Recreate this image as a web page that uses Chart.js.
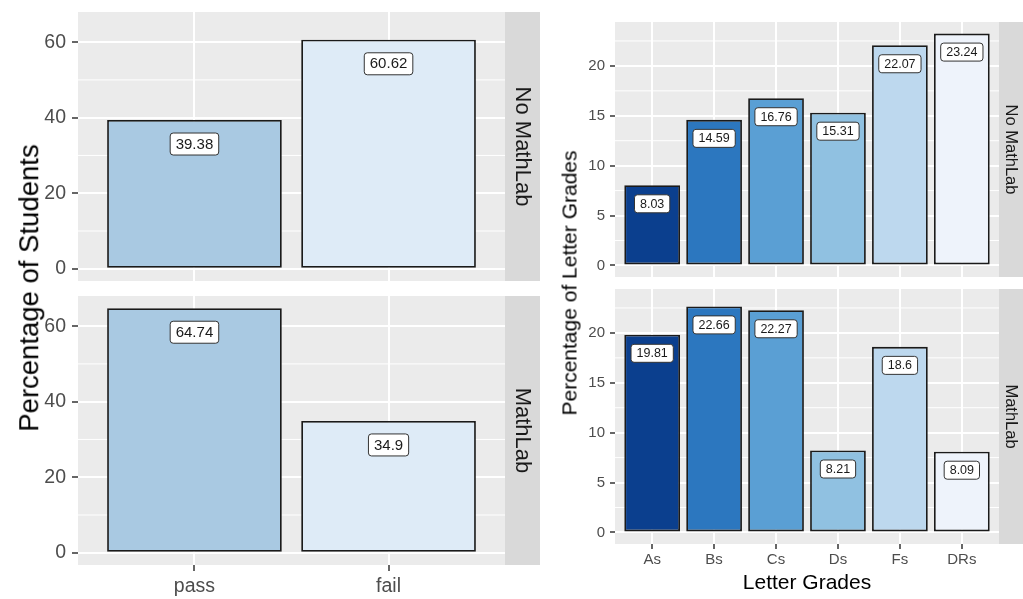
<!DOCTYPE html>
<html><head><meta charset="utf-8">
<script src="https://cdn.jsdelivr.net/npm/chart.js@4.4.0/dist/chart.umd.min.js"></script>
<style>
html,body{margin:0;padding:0;background:#fff;}
body{width:1023px;height:599px;position:relative;overflow:hidden;font-family:"Liberation Sans",Arial,sans-serif;}
canvas{position:absolute;}
.title{position:absolute;white-space:nowrap;color:#000;line-height:1;}
.ytitle{transform:translate(-50%,-50%) rotate(-90deg);}
.xtitle{transform:translate(-50%,-50%);}
</style></head><body>
<canvas id="lt" width="540" height="281" style="left:0;top:0"></canvas>
<canvas id="lb" width="540" height="303" style="left:0;top:296px"></canvas>
<canvas id="rt" width="483" height="277" style="left:540px;top:0"></canvas>
<canvas id="rb" width="483" height="311" style="left:540px;top:288px"></canvas>
<div class="title ytitle" style="left:29px;top:288px;font-size:27.5px">Percentage of Students</div>
<div class="title ytitle" style="left:569px;top:283px;font-size:21px">Percentage of Letter Grades</div>
<div class="title xtitle" style="left:807px;top:581px;font-size:21px">Letter Grades</div>
<script>
// ---- data ----
const facetLabels = ['No MathLab', 'MathLab'];
const passFailCats = ['pass', 'fail'];
const passFailNoMathLab = [39.38, 60.62];
const passFailMathLab = [64.74, 34.9];
const gradeCats = ['As', 'Bs', 'Cs', 'Ds', 'Fs', 'DRs'];
const gradesNoMathLab = [8.03, 14.59, 16.76, 15.31, 22.07, 23.24];
const gradesMathLab = [19.81, 22.66, 22.27, 8.21, 18.6, 8.09];
const passFailTicks = [0, 20, 40, 60];
const gradeTicks = [0, 5, 10, 15, 20];

// ---- styles ----
const passFailColors = ['#a9c9e2', '#deebf7'];
const gradeColors = ['#0b3f8e', '#2c77bf', '#5a9fd4', '#90c1e1', '#bdd8ee', '#eef3fb'];
const FAMILY = '"Liberation Sans", Arial, sans-serif';
Chart.defaults.font.family = FAMILY;

function expandRange(arrays) {
  const mx = Math.max(...arrays.flat());
  const pad = 0.05 * mx;
  return [-pad, mx + pad];
}

function makeChart(id, c) {
  const [yMin, yMax] = c.range;
  const step = c.ticks[1] - c.ticks[0];
  const minor = [];
  c.ticks.forEach(v => { const m = v + step / 2; if (m < yMax) minor.push(m); });
  const facetPlugin = {
    id: 'facet_' + id,
    beforeDraw(chart) {
      const ctx = chart.ctx, a = chart.chartArea;
      ctx.save();
      ctx.fillStyle = '#ebebeb';
      ctx.fillRect(a.left, a.top, a.right - a.left, a.bottom - a.top);
      ctx.fillStyle = '#d9d9d9';
      ctx.fillRect(a.right, a.top, c.stripW, a.bottom - a.top);
      ctx.fillStyle = '#1a1a1a';
      ctx.font = c.stripFont + 'px ' + FAMILY;
      ctx.textAlign = 'center';
      ctx.textBaseline = 'middle';
      ctx.translate(a.right + c.stripW / 2, (a.top + a.bottom) / 2);
      ctx.rotate(Math.PI / 2);
      ctx.fillText(c.strip, 0, 0);
      ctx.restore();
    },
    beforeDatasetsDraw(chart) {
      const ctx = chart.ctx, a = chart.chartArea, ys = chart.scales.y;
      ctx.save();
      ctx.strokeStyle = '#ffffff';
      ctx.lineWidth = 1;
      minor.forEach(v => {
        const p = ys.getPixelForValue(v);
        ctx.beginPath(); ctx.moveTo(a.left, p); ctx.lineTo(a.right, p); ctx.stroke();
      });
      ctx.restore();
    },
    afterDatasetsDraw(chart) {
      const ctx = chart.ctx;
      const meta = chart.getDatasetMeta(0);
      ctx.save();
      ctx.font = c.labelFont + 'px ' + FAMILY;
      ctx.textAlign = 'center';
      ctx.textBaseline = 'middle';
      meta.data.forEach((bar, i) => {
        const txt = String(c.values[i]);
        const w = ctx.measureText(txt).width + 2 * c.labelPadX;
        const h = c.labelFont + 2 * c.labelPadY;
        const cx = bar.x, cy = bar.y + c.labelOffset;
        const x0 = cx - w / 2, y0 = cy - h / 2, r = 3;
        ctx.beginPath();
        ctx.moveTo(x0 + r, y0);
        ctx.arcTo(x0 + w, y0, x0 + w, y0 + h, r);
        ctx.arcTo(x0 + w, y0 + h, x0, y0 + h, r);
        ctx.arcTo(x0, y0 + h, x0, y0, r);
        ctx.arcTo(x0, y0, x0 + w, y0, r);
        ctx.closePath();
        ctx.fillStyle = '#ffffff';
        ctx.fill();
        ctx.strokeStyle = '#333';
        ctx.lineWidth = 1;
        ctx.stroke();
        ctx.fillStyle = '#1a1a1a';
        ctx.fillText(txt, cx, cy + 0.5);
      });
      ctx.restore();
    }
  };
  const zeroPad = s => { s.paddingTop = 0; s.paddingBottom = 0; s.paddingLeft = 0; s.paddingRight = 0; };
  return new Chart(document.getElementById(id), {
    type: 'bar',
    data: {
      datasets: [{
        data: c.values.map((v, i) => ({ x: i + 1, y: v })),
        backgroundColor: c.colors,
        borderColor: '#1a1a1a',
        borderWidth: 1.8,
        borderSkipped: false,
        barPercentage: 0.9,
        categoryPercentage: 1
      }]
    },
    options: {
      responsive: false,
      animation: false,
      events: [],
      layout: { padding: { top: c.padTop, right: c.stripW, left: 0, bottom: 0 } },
      plugins: { legend: { display: false }, tooltip: { enabled: false } },
      scales: {
        x: {
          type: 'linear',
          bounds: 'data',
          offset: false,
          min: 0.4,
          max: c.cats.length + 0.6,
          afterBuildTicks: s => { s.ticks = c.cats.map((_, i) => ({ value: i + 1 })); },
          afterFit: s => { s.height = c.xHeight; zeroPad(s); },
          border: { display: false },
          grid: { offset: false, color: '#ffffff', lineWidth: 2, drawTicks: c.showX, tickLength: c.tickLen, tickColor: '#333333', tickWidth: 1.5 },
          ticks: {
            display: c.showX,
            autoSkip: false, maxRotation: 0, minRotation: 0,
            color: '#4d4d4d',
            font: { size: c.tickFont, family: FAMILY },
            padding: c.xPad,
            callback: v => c.cats[Math.round(v) - 1]
          }
        },
        y: {
          bounds: 'data',
          min: yMin,
          max: yMax,
          afterBuildTicks: s => { s.ticks = c.ticks.map(v => ({ value: v })); },
          afterFit: s => { s.width = c.yWidth; zeroPad(s); },
          border: { display: false },
          grid: { color: '#ffffff', lineWidth: 2, drawTicks: true, tickLength: c.tickLen, tickColor: '#333333', tickWidth: 1.5 },
          ticks: {
            color: '#4d4d4d',
            font: { size: c.tickFont, family: FAMILY },
            padding: c.yPad
          }
        }
      }
    },
    plugins: [facetPlugin]
  });
}

const leftRange = expandRange([passFailNoMathLab, passFailMathLab]);
const rightRange = expandRange([gradesNoMathLab, gradesMathLab]);

const leftBase = {
  cats: passFailCats, colors: passFailColors, ticks: passFailTicks, range: leftRange,
  stripW: 35, stripFont: 22, tickFont: 19.5, labelFont: 15, labelPadX: 5.5, labelPadY: 3.5,
  labelOffset: 24, yWidth: 78, tickLen: 6, yPad: 6, xPad: 4
};
const rightBase = {
  cats: gradeCats, colors: gradeColors, ticks: gradeTicks, range: rightRange,
  stripW: 24, stripFont: 16.5, tickFont: 15, labelFont: 12.5, labelPadX: 5.5, labelPadY: 2.75,
  labelOffset: 18.5, yWidth: 75, tickLen: 5, yPad: 5, xPad: 2
};

makeChart('lt', Object.assign({}, leftBase, { values: passFailNoMathLab, strip: facetLabels[0], padTop: 12, xHeight: 0, showX: false }));
makeChart('lb', Object.assign({}, leftBase, { values: passFailMathLab, strip: facetLabels[1], padTop: 0, xHeight: 34, showX: true }));
makeChart('rt', Object.assign({}, rightBase, { values: gradesNoMathLab, strip: facetLabels[0], padTop: 22, xHeight: 0, showX: false }));
makeChart('rb', Object.assign({}, rightBase, { values: gradesMathLab, strip: facetLabels[1], padTop: 1, xHeight: 55, showX: true }));
</script>
</body></html>
